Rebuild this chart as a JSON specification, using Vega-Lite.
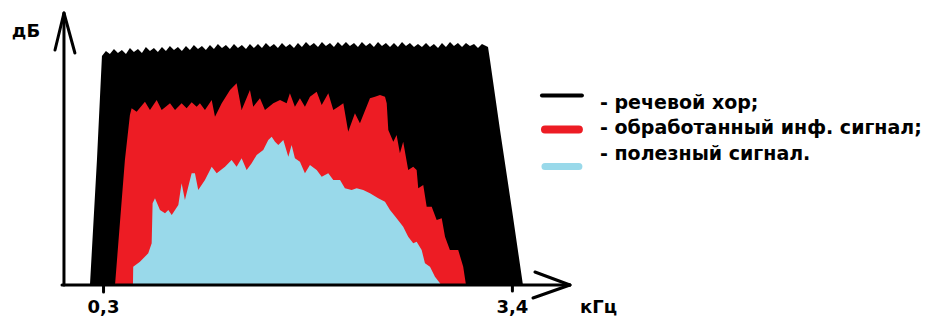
{
  "$schema": "https://vega.github.io/schema/vega-lite/v6.json",
  "width": 935,
  "height": 320,
  "autosize": "none",
  "padding": 0,
  "background": "white",
  "config": {"view": {"stroke": null}},
  "datasets": {
    "chorus": [
      {"f": 0.197, "level": 0}, {"f": 0.250, "level": 125}, {"f": 0.288, "level": 229},
      {"f": 0.318, "level": 234}, {"f": 0.348, "level": 231}, {"f": 0.379, "level": 236}, {"f": 0.409, "level": 232},
      {"f": 0.439, "level": 235}, {"f": 0.470, "level": 231}, {"f": 0.500, "level": 237}, {"f": 0.530, "level": 233},
      {"f": 0.561, "level": 236}, {"f": 0.591, "level": 232}, {"f": 0.621, "level": 238}, {"f": 0.652, "level": 234},
      {"f": 0.682, "level": 237}, {"f": 0.712, "level": 233}, {"f": 0.743, "level": 238}, {"f": 0.773, "level": 234},
      {"f": 0.803, "level": 239}, {"f": 0.834, "level": 235}, {"f": 0.864, "level": 238}, {"f": 0.894, "level": 234},
      {"f": 0.925, "level": 239}, {"f": 0.955, "level": 235}, {"f": 0.985, "level": 240}, {"f": 1.016, "level": 236},
      {"f": 1.046, "level": 239}, {"f": 1.076, "level": 235}, {"f": 1.107, "level": 240}, {"f": 1.137, "level": 236},
      {"f": 1.167, "level": 241}, {"f": 1.198, "level": 237}, {"f": 1.228, "level": 240}, {"f": 1.258, "level": 236},
      {"f": 1.289, "level": 241}, {"f": 1.319, "level": 237}, {"f": 1.349, "level": 240}, {"f": 1.380, "level": 236},
      {"f": 1.410, "level": 241}, {"f": 1.440, "level": 237}, {"f": 1.471, "level": 241}, {"f": 1.501, "level": 237},
      {"f": 1.531, "level": 242}, {"f": 1.562, "level": 238}, {"f": 1.592, "level": 241}, {"f": 1.622, "level": 237},
      {"f": 1.653, "level": 242}, {"f": 1.683, "level": 238}, {"f": 1.713, "level": 241}, {"f": 1.744, "level": 237},
      {"f": 1.774, "level": 242}, {"f": 1.804, "level": 238}, {"f": 1.835, "level": 243}, {"f": 1.865, "level": 239},
      {"f": 1.895, "level": 242}, {"f": 1.926, "level": 238}, {"f": 1.956, "level": 243}, {"f": 1.986, "level": 239},
      {"f": 2.017, "level": 242}, {"f": 2.047, "level": 238}, {"f": 2.077, "level": 243}, {"f": 2.108, "level": 239},
      {"f": 2.138, "level": 243}, {"f": 2.168, "level": 239}, {"f": 2.199, "level": 242}, {"f": 2.229, "level": 238},
      {"f": 2.259, "level": 243}, {"f": 2.290, "level": 239}, {"f": 2.320, "level": 242}, {"f": 2.350, "level": 238},
      {"f": 2.381, "level": 243}, {"f": 2.411, "level": 239}, {"f": 2.441, "level": 242}, {"f": 2.472, "level": 238},
      {"f": 2.502, "level": 242}, {"f": 2.532, "level": 238}, {"f": 2.563, "level": 243}, {"f": 2.593, "level": 239},
      {"f": 2.623, "level": 242}, {"f": 2.654, "level": 238}, {"f": 2.684, "level": 241}, {"f": 2.714, "level": 238},
      {"f": 2.745, "level": 242}, {"f": 2.775, "level": 238}, {"f": 2.805, "level": 241}, {"f": 2.836, "level": 237},
      {"f": 2.866, "level": 242}, {"f": 2.896, "level": 238}, {"f": 2.927, "level": 243}, {"f": 2.957, "level": 239},
      {"f": 2.987, "level": 242}, {"f": 3.018, "level": 238}, {"f": 3.048, "level": 242}, {"f": 3.078, "level": 239},
      {"f": 3.109, "level": 241}, {"f": 3.139, "level": 237}, {"f": 3.169, "level": 241}, {"f": 3.200, "level": 239},
      {"f": 3.215, "level": 238}, {"f": 3.230, "level": 225}, {"f": 3.306, "level": 155}, {"f": 3.397, "level": 75},
      {"f": 3.480, "level": 0}
    ],
    "processed": [
      {"f": 0.387, "level": 0}, {"f": 0.462, "level": 125}, {"f": 0.500, "level": 170}, {"f": 0.513, "level": 176.7},
      {"f": 0.551, "level": 173.3}, {"f": 0.614, "level": 183.3}, {"f": 0.652, "level": 175}, {"f": 0.703, "level": 185},
      {"f": 0.741, "level": 175}, {"f": 0.804, "level": 181.7}, {"f": 0.842, "level": 175}, {"f": 0.892, "level": 181.7},
      {"f": 0.930, "level": 176.7}, {"f": 0.968, "level": 182.7}, {"f": 1.006, "level": 178.3}, {"f": 1.031, "level": 181.7},
      {"f": 1.069, "level": 175}, {"f": 1.120, "level": 185}, {"f": 1.145, "level": 168.3}, {"f": 1.196, "level": 181.7},
      {"f": 1.259, "level": 195}, {"f": 1.309, "level": 201.7}, {"f": 1.347, "level": 175}, {"f": 1.410, "level": 195},
      {"f": 1.435, "level": 178.3}, {"f": 1.486, "level": 186.7}, {"f": 1.524, "level": 175}, {"f": 1.587, "level": 181.7},
      {"f": 1.638, "level": 185}, {"f": 1.688, "level": 181.7}, {"f": 1.713, "level": 191.7}, {"f": 1.751, "level": 178.3},
      {"f": 1.789, "level": 186.7}, {"f": 1.827, "level": 178.3}, {"f": 1.865, "level": 188.3}, {"f": 1.916, "level": 193.3},
      {"f": 1.954, "level": 180}, {"f": 2.004, "level": 191.7}, {"f": 2.042, "level": 175}, {"f": 2.080, "level": 178.3},
      {"f": 2.118, "level": 181.7}, {"f": 2.155, "level": 153.3}, {"f": 2.206, "level": 171.7}, {"f": 2.244, "level": 161.7},
      {"f": 2.320, "level": 186.7}, {"f": 2.358, "level": 188.3}, {"f": 2.396, "level": 190}, {"f": 2.434, "level": 188.3},
      {"f": 2.447, "level": 181.7}, {"f": 2.459, "level": 155}, {"f": 2.497, "level": 143.3}, {"f": 2.522, "level": 150},
      {"f": 2.547, "level": 131.7}, {"f": 2.572, "level": 143.3}, {"f": 2.610, "level": 115}, {"f": 2.648, "level": 118.3},
      {"f": 2.674, "level": 115}, {"f": 2.686, "level": 96.7}, {"f": 2.724, "level": 100}, {"f": 2.750, "level": 78.3},
      {"f": 2.788, "level": 78.3}, {"f": 2.826, "level": 65}, {"f": 2.864, "level": 66.7}, {"f": 2.889, "level": 48.3},
      {"f": 2.926, "level": 35}, {"f": 2.989, "level": 35}, {"f": 3.027, "level": 18.3}, {"f": 3.048, "level": 0}
    ],
    "useful": [
      {"f": 0.523, "level": 0}, {"f": 0.525, "level": 18.3}, {"f": 0.576, "level": 23.3}, {"f": 0.639, "level": 31.7},
      {"f": 0.665, "level": 41.7}, {"f": 0.672, "level": 81.7}, {"f": 0.690, "level": 86.7}, {"f": 0.728, "level": 75},
      {"f": 0.766, "level": 71.7}, {"f": 0.791, "level": 75}, {"f": 0.817, "level": 70}, {"f": 0.867, "level": 80},
      {"f": 0.892, "level": 101.7}, {"f": 0.917, "level": 85}, {"f": 0.968, "level": 111.7}, {"f": 0.993, "level": 111.7},
      {"f": 1.018, "level": 95}, {"f": 1.069, "level": 105}, {"f": 1.120, "level": 118.3}, {"f": 1.158, "level": 111.7},
      {"f": 1.221, "level": 118.3}, {"f": 1.271, "level": 125}, {"f": 1.309, "level": 118.3}, {"f": 1.347, "level": 126.7},
      {"f": 1.385, "level": 115}, {"f": 1.423, "level": 121.7}, {"f": 1.461, "level": 130}, {"f": 1.511, "level": 135},
      {"f": 1.549, "level": 145}, {"f": 1.575, "level": 148.3}, {"f": 1.600, "level": 143.3}, {"f": 1.625, "level": 140},
      {"f": 1.663, "level": 145}, {"f": 1.701, "level": 128.3}, {"f": 1.726, "level": 140}, {"f": 1.751, "level": 126.7},
      {"f": 1.789, "level": 123.3}, {"f": 1.827, "level": 111.7}, {"f": 1.865, "level": 120}, {"f": 1.916, "level": 115},
      {"f": 1.954, "level": 108.3}, {"f": 2.004, "level": 111.7}, {"f": 2.042, "level": 105}, {"f": 2.093, "level": 105},
      {"f": 2.130, "level": 96.7}, {"f": 2.181, "level": 95}, {"f": 2.219, "level": 96.7}, {"f": 2.269, "level": 95},
      {"f": 2.320, "level": 91.7}, {"f": 2.383, "level": 86.7}, {"f": 2.434, "level": 83.3}, {"f": 2.472, "level": 75},
      {"f": 2.522, "level": 66.7}, {"f": 2.572, "level": 58.3}, {"f": 2.610, "level": 48.3}, {"f": 2.648, "level": 41.7},
      {"f": 2.674, "level": 43.3}, {"f": 2.712, "level": 35}, {"f": 2.737, "level": 21.7}, {"f": 2.775, "level": 18.3},
      {"f": 2.813, "level": 8.3}, {"f": 2.851, "level": 1.7}, {"f": 2.858, "level": 0}
    ],
    "axes": [
      {"f": 0, "level": 0, "f2": 0, "level2": 271},
      {"f": -0.015, "level": 0, "f2": 3.836, "level2": 0},
      {"f": -0.068, "level": 235, "f2": 0, "level2": 272},
      {"f": 0.083, "level": 232, "f2": 0, "level2": 272},
      {"f": 3.571, "level": 13, "f2": 3.836, "level2": 0},
      {"f": 3.556, "level": -13, "f2": 3.836, "level2": 0},
      {"f": 0.3, "level": 0, "f2": 0.3, "level2": -7},
      {"f": 3.4, "level": 0, "f2": 3.4, "level2": -6}
    ],
    "legend": [
      {"series": "chorus", "f": 3.624, "f2": 3.927, "level": 189.5, "w": 4},
      {"series": "processed", "f": 3.647, "f2": 3.904, "level": 155.5, "w": 8},
      {"series": "useful", "f": 3.647, "f2": 3.904, "level": 118.5, "w": 7}
    ],
    "centerLabels": [
      {"f": -0.288, "level": 248.5, "text": "дБ"},
      {"f": 0.3, "level": -28, "text": "0,3"},
      {"f": 3.4, "level": -28, "text": "3,4"}
    ],
    "unitLabels": [
      {"f": 3.912, "level": -28, "text": "кГц"}
    ],
    "legendLabels": [
      {"f": 4.064, "level": 176.5, "text": "- речевой хор;"},
      {"f": 4.064, "level": 151.5, "text": "- обработанный инф. сигнал;"},
      {"f": 4.064, "level": 125, "text": "- полезный сигнал."}
    ]
  },
  "layer": [
    {
      "data": {"name": "chorus"},
      "mark": {"type": "area", "color": "#000000"},
      "encoding": {
        "x": {"field": "f", "type": "quantitative", "scale": {"domain": [-0.485, 6.604], "nice": false, "zero": false}, "axis": null},
        "y": {"field": "level", "type": "quantitative", "scale": {"domain": [-35, 285], "nice": false, "zero": false}, "axis": null}
      }
    },
    {
      "data": {"name": "processed"},
      "mark": {"type": "area", "color": "#ED1C24"},
      "encoding": {
        "x": {"field": "f", "type": "quantitative", "axis": null},
        "y": {"field": "level", "type": "quantitative", "axis": null}
      }
    },
    {
      "data": {"name": "useful"},
      "mark": {"type": "area", "color": "#99D9EA"},
      "encoding": {
        "x": {"field": "f", "type": "quantitative", "axis": null},
        "y": {"field": "level", "type": "quantitative", "axis": null}
      }
    },
    {
      "data": {"name": "axes"},
      "mark": {"type": "rule", "color": "#000000", "strokeWidth": 3, "strokeCap": "round"},
      "encoding": {
        "x": {"field": "f", "type": "quantitative", "axis": null},
        "y": {"field": "level", "type": "quantitative", "axis": null},
        "x2": {"field": "f2"},
        "y2": {"field": "level2"}
      }
    },
    {
      "data": {"name": "legend"},
      "mark": {"type": "rule", "strokeCap": "round"},
      "encoding": {
        "x": {"field": "f", "type": "quantitative", "axis": null},
        "x2": {"field": "f2"},
        "y": {"field": "level", "type": "quantitative", "axis": null},
        "color": {"field": "series", "type": "nominal", "scale": {"domain": ["chorus", "processed", "useful"], "range": ["#000000", "#ED1C24", "#99D9EA"]}, "legend": null},
        "strokeWidth": {"field": "w", "type": "quantitative", "scale": null, "legend": null}
      }
    },
    {
      "data": {"name": "centerLabels"},
      "mark": {"type": "text", "align": "center", "baseline": "alphabetic", "font": "DejaVu Sans", "fontWeight": "bold", "fontSize": 18, "color": "#000000"},
      "encoding": {
        "x": {"field": "f", "type": "quantitative", "axis": null},
        "y": {"field": "level", "type": "quantitative", "axis": null},
        "text": {"field": "text"}
      }
    },
    {
      "data": {"name": "unitLabels"},
      "mark": {"type": "text", "align": "left", "baseline": "alphabetic", "font": "DejaVu Sans", "fontWeight": "bold", "fontSize": 18, "color": "#000000"},
      "encoding": {
        "x": {"field": "f", "type": "quantitative", "axis": null},
        "y": {"field": "level", "type": "quantitative", "axis": null},
        "text": {"field": "text"}
      }
    },
    {
      "data": {"name": "legendLabels"},
      "mark": {"type": "text", "align": "left", "baseline": "alphabetic", "font": "DejaVu Sans", "fontWeight": "bold", "fontSize": 19, "color": "#000000"},
      "encoding": {
        "x": {"field": "f", "type": "quantitative", "axis": null},
        "y": {"field": "level", "type": "quantitative", "axis": null},
        "text": {"field": "text"}
      }
    }
  ]
}
